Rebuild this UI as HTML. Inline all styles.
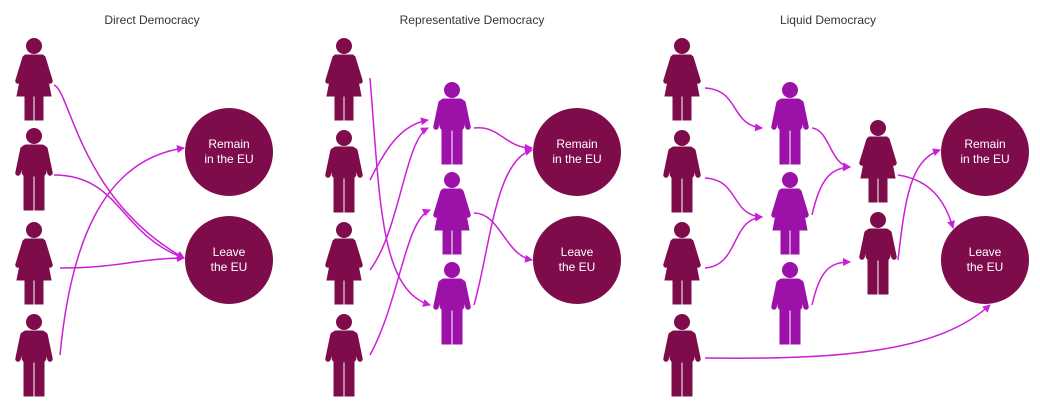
<!DOCTYPE html>
<html><head><meta charset="utf-8"><style>
html,body{margin:0;padding:0;background:#fff;}
svg{display:block;font-family:"Liberation Sans",sans-serif;}
</style></head><body>
<svg width="1040" height="415" viewBox="0 0 1040 415" xmlns="http://www.w3.org/2000/svg">
<defs>
<marker id="ah" markerWidth="8" markerHeight="8" refX="7" refY="4" orient="auto" markerUnits="userSpaceOnUse">
<path d="M0,0 L8,4 L0,8 Z" fill="#cc1fd8"/>
</marker>
<g id="man">
<circle cx="20" cy="8" r="7.5"/>
<rect x="8" y="17" width="24" height="31" rx="4"/>
<line x1="9" y1="21" x2="4" y2="45" stroke-width="5.5" stroke-linecap="round"/>
<line x1="31" y1="21" x2="36" y2="45" stroke-width="5.5" stroke-linecap="round"/>
<rect x="10" y="44" width="9" height="38"/>
<rect x="21" y="44" width="9" height="38"/>
</g>
<g id="woman">
<circle cx="20" cy="8" r="7.5"/>
<path d="M11,17 H29 L37,58 H3 Z"/>
<line x1="11" y1="20" x2="4" y2="43" stroke-width="5.5" stroke-linecap="round"/>
<line x1="29" y1="20" x2="36" y2="43" stroke-width="5.5" stroke-linecap="round"/>
<rect x="11" y="56" width="8" height="26"/>
<rect x="21" y="56" width="8" height="26"/>
</g>
</defs>
<g font-size="12" fill="#333" text-anchor="middle">
<text x="152" y="24">Direct Democracy</text>
<text x="472" y="24">Representative Democracy</text>
<text x="828" y="24">Liquid Democracy</text>
</g>
<g fill="#7e0c4b" stroke="#7e0c4b">
<use href="#woman" x="14" y="38"/><use href="#man" x="14" y="128"/><use href="#woman" x="14" y="222"/><use href="#man" x="14" y="314"/>
<use href="#woman" x="324" y="38"/><use href="#man" x="324" y="130"/><use href="#woman" x="324" y="222"/><use href="#man" x="324" y="314"/>
<use href="#woman" x="662" y="38"/><use href="#man" x="662" y="130"/><use href="#woman" x="662" y="222"/><use href="#man" x="662" y="314"/>
<use href="#woman" x="858" y="120"/><use href="#man" x="858" y="212"/>
</g>
<g fill="#9c12a8" stroke="#9c12a8">
<use href="#man" x="432" y="82"/><use href="#woman" x="432" y="172"/><use href="#man" x="432" y="262"/>
<use href="#man" x="770" y="82"/><use href="#woman" x="770" y="172"/><use href="#man" x="770" y="262"/>
</g>
<g fill="#7e0c4b">
<circle cx="229" cy="152" r="44"/><circle cx="229" cy="260" r="44"/>
<circle cx="577" cy="152" r="44"/><circle cx="577" cy="260" r="44"/>
<circle cx="985" cy="152" r="44"/><circle cx="985" cy="260" r="44"/>
</g>
<g fill="#fff" font-size="12" text-anchor="middle">
<text x="229" y="148">Remain</text><text x="229" y="163">in the EU</text>
<text x="229" y="256">Leave</text><text x="229" y="271">the EU</text>
<text x="577" y="148">Remain</text><text x="577" y="163">in the EU</text>
<text x="577" y="256">Leave</text><text x="577" y="271">the EU</text>
<text x="985" y="148">Remain</text><text x="985" y="163">in the EU</text>
<text x="985" y="256">Leave</text><text x="985" y="271">the EU</text>
</g>
<g fill="none" stroke="#cc1fd8" stroke-width="1.5" marker-end="url(#ah)">
<path d="M54,85 C70,90 80,200 184,258"/>
<path d="M54,175 C120,175 120,235 184,258"/>
<path d="M60,268 C120,268 140,258 184,258"/>
<path d="M60,355 C70,250 100,160 184,148"/>
<path d="M370,78 C380,200 380,290 430,305"/>
<path d="M370,180 C385,150 400,125 428,120"/>
<path d="M370,270 C400,230 405,140 428,128"/>
<path d="M370,355 C400,300 405,220 430,210"/>
<path d="M474,128 C500,125 505,148 532,148"/>
<path d="M474,213 C500,213 505,255 532,260"/>
<path d="M474,305 C490,250 495,160 532,150"/>
<path d="M705,88 C740,90 730,125 762,128"/>
<path d="M705,178 C740,180 730,215 762,217"/>
<path d="M705,268 C740,265 730,220 762,217"/>
<path d="M705,358 C850,360 940,350 990,305"/>
<path d="M812,128 C830,130 830,165 850,167"/>
<path d="M812,215 C820,180 830,168 850,167"/>
<path d="M812,305 C820,270 830,262 850,262"/>
<path d="M898,175 C930,180 945,200 953,228"/>
<path d="M898,260 C905,200 910,160 940,150"/>
</g>
</svg>
</body></html>
